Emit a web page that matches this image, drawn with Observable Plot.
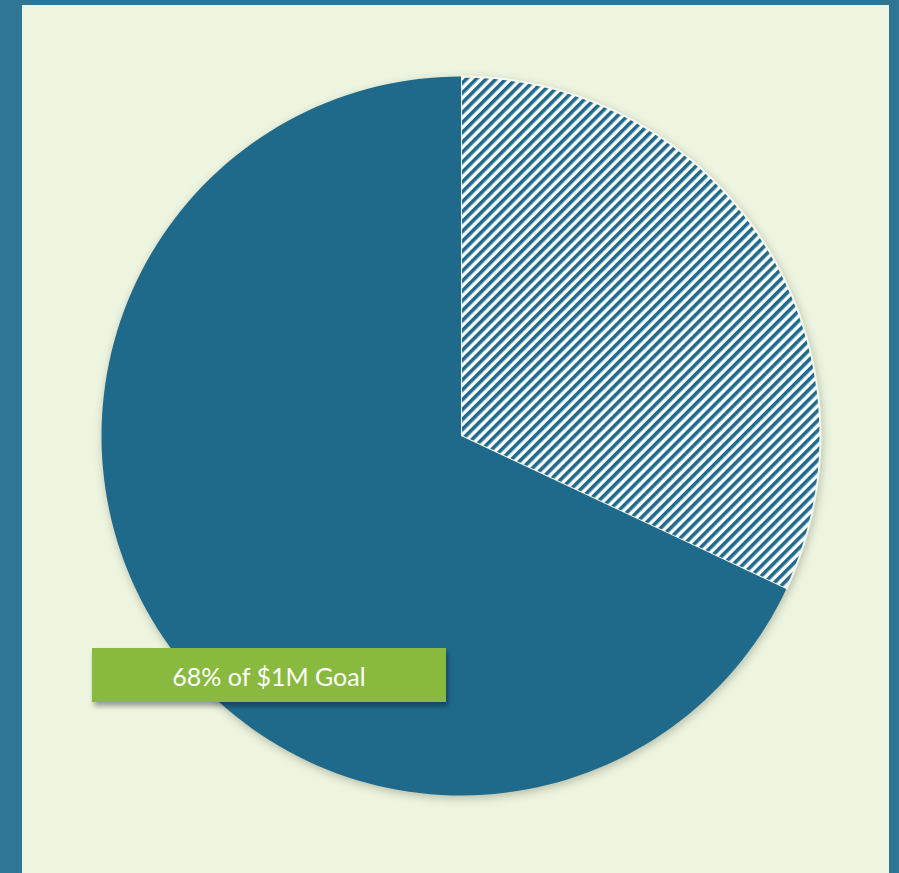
<!DOCTYPE html>
<html>
<head>
<meta charset="utf-8">
<script src="https://cdn.jsdelivr.net/npm/d3@7"></script>
<script src="https://cdn.jsdelivr.net/npm/@observablehq/plot@0.6"></script>
<style>
  html, body { margin: 0; padding: 0; }
  body { background: #2e7693; width: 899px; height: 873px; position: relative; overflow: hidden; }
  #chart { position: absolute; left: 22px; top: 5px; }
  #chart svg g[aria-label="geo"] { filter: drop-shadow(1px 3px 4px rgba(40,50,30,0.28)); }
  #label {
    position: absolute; left: 92px; top: 648px; width: 354px; height: 54px;
    background: #8ab93f; color: #ffffff; font-family: Lato, "Open Sans", sans-serif;
    font-size: 25px; line-height: 56px; text-align: center;
    box-shadow: 2px 4px 5px rgba(0,0,0,0.35);
  }
</style>
</head>
<body>
<div id="chart"></div>
<div id="label"></div>
<script>
// Data
const categories = ["Remaining", "Raised"];
const percents = [32, 68];
const goalLabel = "$1M";
const fills = ["url(#hatch)", "#1f6a8b"];

// Build slices (clockwise from 12 o'clock) as spherical polygons around the north pole
const total = d3.sum(percents);
let acc = 0;
const slices = categories.map((c, i) => {
  const a0 = acc / total * 360;
  acc += percents[i];
  const a1 = acc / total * 360;
  const n = Math.max(2, Math.ceil((a1 - a0) / 30));
  const ring = [[0, 90]];
  for (let k = 0; k <= n; k++) {
    const a = a0 + (a1 - a0) * k / n;
    ring.push([180 - a, 0]);
  }
  ring.push([0, 90]);
  return {type: "Feature", properties: {category: c, percent: percents[i], fill: fills[i]},
          geometry: {type: "Polygon", coordinates: [ring]}};
});

const W = 867, H = 868, cx = 438.5, cy = 430.5, R = 359.5;

const plot = Plot.plot({
  width: W,
  height: H,
  margin: 0,
  style: {background: "#edf4df", overflow: "visible"},
  projection: () => d3.geoAzimuthalEquidistant()
    .rotate([0, -90])
    .translate([cx, cy])
    .scale(R / (Math.PI / 2))
    .precision(0.1),
  marks: [
    Plot.geo(slices, {
      fill: d => d.properties.fill,
      stroke: d => d.properties.category === "Remaining" ? "#f4f7ec" : "none",
      strokeWidth: 2
    })
  ]
});

// Hatch pattern definition
const defs = d3.select(plot).insert("defs", ":first-child");
const pat = defs.append("pattern")
  .attr("id", "hatch")
  .attr("patternUnits", "userSpaceOnUse")
  .attr("width", 7)
  .attr("height", 7)
  .attr("patternTransform", "rotate(45)");
pat.append("rect").attr("width", 7).attr("height", 7).attr("fill", "#ffffff");
pat.append("rect").attr("width", 3.6).attr("height", 7).attr("fill", "#1f6a8b");

document.getElementById("chart").appendChild(plot);
document.getElementById("label").textContent = `${percents[1]}% of ${goalLabel} Goal`;
</script>
</body>
</html>
